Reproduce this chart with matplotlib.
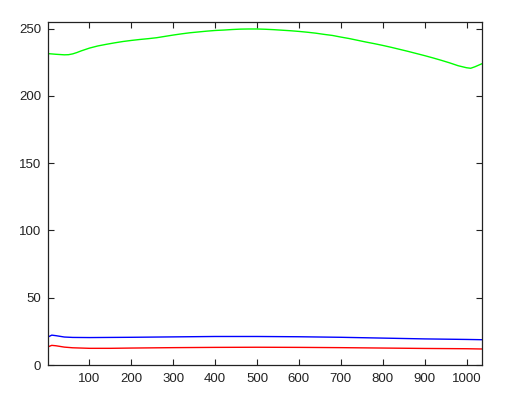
import numpy as np
import matplotlib
matplotlib.use("Agg")
import matplotlib.pyplot as plt

green_x = [1, 20, 40, 50, 60, 70, 80, 100, 120, 140, 160, 180, 200, 220, 240, 260, 280,
           300, 320, 340, 360, 380, 400, 420, 440, 460, 480, 500, 520, 540, 560,
           580, 600, 620, 640, 660, 680, 700, 720, 740, 760, 780, 800, 820, 840,
           860, 880, 900, 920, 940, 960, 980, 1000, 1010, 1020, 1037]
green_y = [231.5, 231.0, 230.6, 230.7, 231.3, 232.3, 233.5, 235.6, 237.2, 238.4, 239.5,
           240.5, 241.3, 242.0, 242.6, 243.3, 244.3, 245.3, 246.2, 247.0, 247.6, 248.2,
           248.7, 249.0, 249.4, 249.7, 249.8, 249.8, 249.6, 249.3, 248.9, 248.5,
           248.0, 247.4, 246.7, 245.8, 245.0, 243.8, 242.7, 241.4, 240.1, 238.9,
           237.6, 236.2, 234.7, 233.2, 231.6, 230.0, 228.3, 226.5, 224.6, 222.5,
           221.0, 220.6, 221.7, 224.0]

blue_x = [1, 10, 20, 40, 60, 100, 200, 300, 400, 500, 600, 700, 800, 900, 1000, 1037]
blue_y = [20.8, 22.2, 21.8, 20.8, 20.5, 20.4, 20.6, 20.9, 21.2, 21.2, 21.0, 20.6,
          20.0, 19.4, 19.0, 18.8]

red_x = [1, 10, 20, 40, 60, 100, 150, 200, 300, 400, 500, 600, 700, 800, 900, 1000, 1037]
red_y = [13.5, 14.6, 14.3, 13.3, 12.8, 12.4, 12.4, 12.6, 12.9, 13.1, 13.2, 13.1,
         12.9, 12.6, 12.3, 12.1, 11.9]

xticks = [100, 200, 300, 400, 500, 600, 700, 800, 900, 1000]
yticks = [0, 50, 100, 150, 200, 250]

plt.rcParams['font.family'] = ['Liberation Sans', 'DejaVu Sans']

fig = plt.figure(figsize=(5.07, 3.99), dpi=100)
ax = fig.add_axes([48/507, 34/399, 434/507, 343/399])

ax.plot(red_x, red_y, color=(1, 0, 0), lw=1.0)
ax.plot(green_x, green_y, color=(0, 1, 0), lw=1.0)
ax.plot(blue_x, blue_y, color=(0, 0, 1), lw=1.0)

ax.set_xlim(1, 1037)
ax.set_ylim(0, 255)
ax.set_xticks(xticks)
ax.set_yticks(yticks)
ax.tick_params(direction='in', length=4, width=0.8, top=True, right=True,
               labelsize=9.5, colors='#222222')
ax.tick_params(axis='y', pad=5)
ax.tick_params(axis='x', pad=6)
for s in ax.spines.values():
  s.set_linewidth(0.9)
  s.set_color('#222222')

fig.savefig("out.png", dpi=100)
